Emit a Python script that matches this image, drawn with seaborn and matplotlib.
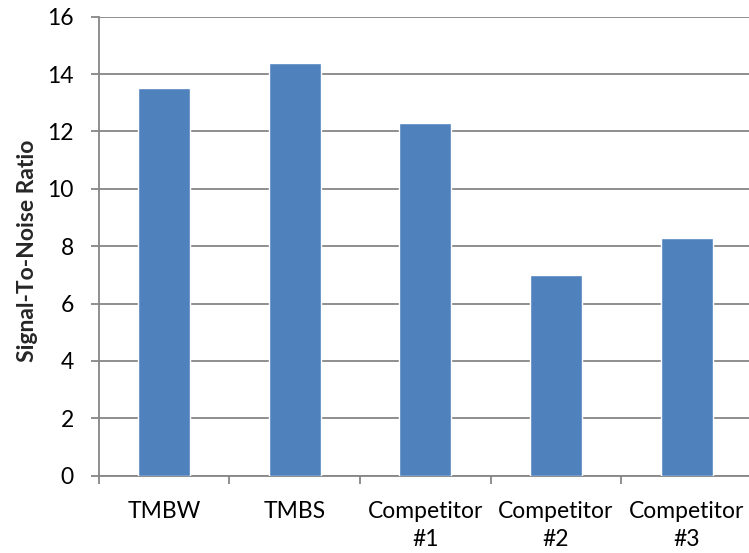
import matplotlib
matplotlib.use("Agg")
import matplotlib.pyplot as plt
import seaborn as sns
import pandas as pd

categories = ["TMBW", "TMBS", "Competitor\n#1", "Competitor\n#2", "Competitor\n#3"]
snr_values = [13.5, 14.4, 12.3, 7.0, 8.3]
y_ticks = [0, 2, 4, 6, 8, 10, 12, 14, 16]

sns.set_style("white")
plt.rcParams["font.family"] = ["Lato", "DejaVu Sans"]

df = pd.DataFrame({"category": categories, "snr": snr_values})

fig = plt.figure(figsize=(7.49, 5.53), dpi=100)
ax = fig.add_axes([0.1318, 0.1398, 1.004 - 0.1318, 0.9698 - 0.1398])

sns.barplot(data=df, x="category", y="snr", color="#4F81BD", saturation=1,
            width=0.4, ax=ax, zorder=3)

grid_color = "#868686"
ax.set_ylim(0, 16)
ax.set_yticks(y_ticks)
ax.set_xlim(-0.5, len(categories) - 0.5)
ax.yaxis.grid(True, color=grid_color, linewidth=1.3, zorder=0)
ax.set_axisbelow(True)

for side in ["top", "right"]:
    ax.spines[side].set_visible(False)
for side in ["left", "bottom"]:
    ax.spines[side].set_color(grid_color)
    ax.spines[side].set_linewidth(1.3)

# category boundary ticks on the x axis, like a category axis
ax.set_xticks([i + 0.5 for i in range(-1, len(categories))], minor=True)
ax.tick_params(axis="x", which="minor", length=6, width=1.3, color=grid_color,
               direction="out", bottom=True)
ax.tick_params(axis="x", which="major", length=0, pad=18, labelsize=16.5,
               labelcolor="black")
ax.tick_params(axis="y", which="major", length=6, width=1.3, color=grid_color,
               direction="out", left=True, pad=12, labelsize=16.5,
               labelcolor="black")
for lbl in ax.get_xticklabels():
    lbl.set_linespacing(1.45)

ax.set_xlabel("")
ax.set_ylabel("Signal-To-Noise Ratio", fontsize=16.5, fontweight="bold")
ax.yaxis.set_label_coords(-0.093, 0.49)

fig.savefig("out.png", dpi=100)
